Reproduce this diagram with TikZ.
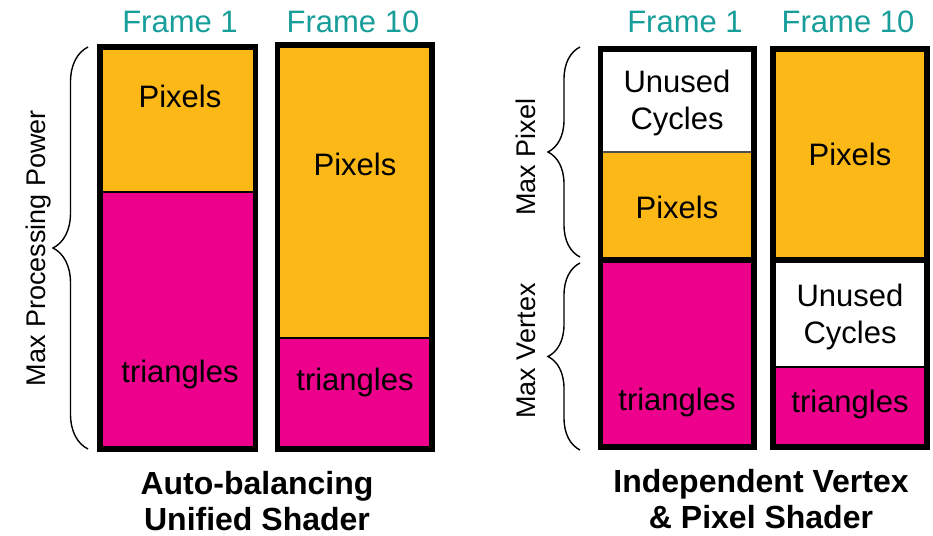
\documentclass[tikz,border=0pt]{standalone}
\usepackage{fontspec}
\setmainfont{Liberation Sans}
\usetikzlibrary{decorations.pathreplacing}

\definecolor{pixelgelb}{RGB}{252,184,22}
\definecolor{dreieckrot}{RGB}{236,0,140}
\definecolor{rahmentuerkis}{RGB}{24,158,154}

\tikzset{
	rahmen/.style={line width=5.5pt},
	trennlinie/.style={line width=1.5pt},
	feldtext/.style={anchor=base, align=center, font=\fontsize{31}{37}\selectfont},
	frametext/.style={anchor=base, text=rahmentuerkis, font=\fontsize{31}{37}\selectfont},
	seitentext/.style={anchor=base, rotate=90, font=\fontsize{27}{32}\selectfont},
	titeltext/.style={anchor=base, align=center, font=\fontsize{32}{36}\bfseries\selectfont},
	klammer/.style={line width=1.4pt, decorate, decoration={brace, amplitude=#1}},
}

\begin{document}
\begin{tikzpicture}[x=1pt,y=-1pt]
	\useasboundingbox (0,0) rectangle (933,535);
	
	% Felder füllen
	\fill[pixelgelb] (100,47) rectangle (255.5,192);
	\fill[dreieckrot] (100,192) rectangle (255.5,449);
	\fill[pixelgelb] (277.5,45) rectangle (432,338);
	\fill[dreieckrot] (277.5,338) rectangle (432,449);
	\fill[white] (600.5,49) rectangle (754,152);
	\fill[pixelgelb] (600.5,152) rectangle (754,260);
	\fill[dreieckrot] (600.5,260) rectangle (754,447);
	\fill[pixelgelb] (773,49) rectangle (927,260);
	\fill[white] (773,260) rectangle (927,367);
	\fill[dreieckrot] (773,367) rectangle (927,447);
	
	% Dünne Trennlinien
	\draw[trennlinie] (100,192) -- (255.5,192);
	\draw[trennlinie] (277.5,338) -- (432,338);
	\draw[trennlinie, black!70] (600.5,152) -- (754,152);
	\draw[trennlinie] (773,367) -- (927,367);
	
	% Dicke Rahmen
	\draw[rahmen] (100,47) rectangle (255.5,449);
	\draw[rahmen] (277.5,45) rectangle (432,449);
	\foreach \x/\xx in {600.5/754, 773/927} {
		\draw[rahmen] (\x,49) rectangle (\xx,260);
		\draw[rahmen] (\x,260) rectangle (\xx,447);
	}
	
	% Überschriften der Frames
	\foreach \x/\t [count=\i] in {180/Frame 1, 353/Frame 10, 685/Frame 1, 848/Frame 10} {
		\node[frametext] (frame\i) at (\x,33) {\t};
	}
	
	% Beschriftung der Felder (Basis = letzte Zeile)
	\node[feldtext] (pix1) at (180,107) {Pixels};
	\node[feldtext] (tri1) at (180,382) {triangles};
	\node[feldtext] (pix2) at (355,175) {Pixels};
	\node[feldtext] (tri2) at (355,390) {triangles};
	\node[feldtext] (frei3) at (677,129) {Unused\\Cycles};
	\node[feldtext] (pix3) at (677,218) {Pixels};
	\node[feldtext] (tri3) at (677,410) {triangles};
	\node[feldtext] (pix4) at (850,165) {Pixels};
	\node[feldtext] (frei4) at (850,343) {Unused\\Cycles};
	\node[feldtext] (tri4) at (850,412) {triangles};
	
	% Klammern mit Beschriftung
	\draw[klammer=35pt] (88,449) -- (88,47);
	\node[seitentext] (maxpower) at (45,248) {Max Processing Power};
	\draw[klammer=32pt] (580,257) -- (580,47);
	\node[seitentext] (maxpixel) at (535,157) {Max Pixel};
	\draw[klammer=32pt] (580,450) -- (580,263);
	\node[seitentext] (maxvertex) at (535,351) {Max Vertex};
	
	% Titel unten
	\node[titeltext] (titelA) at (257,530) {Auto-balancing\\Unified Shader};
	\node[titeltext] (titelB) at (761,528) {Independent Vertex\\\& Pixel Shader};
\end{tikzpicture}
\end{document}
